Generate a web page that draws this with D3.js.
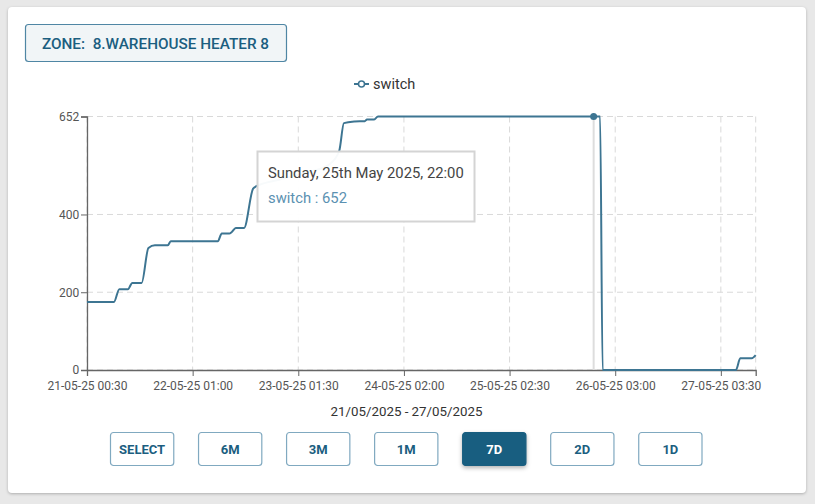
<!DOCTYPE html>
<html><head><meta charset="utf-8">
<script src="https://cdn.jsdelivr.net/npm/d3@7"></script>
<style>
html,body{margin:0;padding:0;background:#e8e8e8;font-family:Roboto,"Noto Sans",sans-serif;}
#card{position:absolute;left:8px;top:7px;width:798px;height:486px;background:#fff;border-radius:4px;box-shadow:0 1px 3px rgba(0,0,0,0.25);}
svg{position:absolute;left:0;top:0;}
</style></head>
<body>
<div id="card"></div>
<svg id="chart" width="815" height="504"></svg>
<script>
const zoneTitle = "ZONE:  8.WAREHOUSE HEATER 8";
const seriesName = "switch";
const times = [
 "2025-05-21 00:30","2025-05-21 06:45","2025-05-21 08:00","2025-05-21 10:00","2025-05-21 11:00","2025-05-21 13:10",
 "2025-05-21 14:45","2025-05-21 16:15","2025-05-21 19:15","2025-05-21 19:55","2025-05-22 06:50","2025-05-22 07:45",
 "2025-05-22 09:30","2025-05-22 10:05","2025-05-22 11:00","2025-05-22 12:55","2025-05-22 15:00","2025-05-22 15:40",
 "2025-05-22 21:15","2025-05-23 04:10","2025-05-23 08:50","2025-05-23 11:00","2025-05-23 12:05","2025-05-23 14:35",
 "2025-05-23 16:55","2025-05-23 17:25","2025-05-23 19:00","2025-05-23 20:00","2025-05-25 22:00","2025-05-25 23:30",
 "2025-05-26 00:05","2025-05-27 07:00","2025-05-27 08:00","2025-05-27 10:40","2025-05-27 11:35"];
const values = [175,175,208,208,224,224,314,321,321,331,331,351,351,355,365,365,466,472,490,510,530,564,635,639,640,644,644,652,652,652,0,0,30,30,38];
const yTicks = [0,200,400,652];
const xTickLabels = ["21-05-25 00:30","22-05-25 01:00","23-05-25 01:30","24-05-25 02:00","25-05-25 02:30","26-05-25 03:00","27-05-25 03:30"];
const rangeButtons = ["SELECT","6M","3M","1M","7D","2D","1D"];
const activeButton = "7D";
const axisTitle = "21/05/2025 - 27/05/2025";
const tooltipTitle = "Sunday, 25th May 2025, 22:00";
const tooltipTime = "2025-05-25 22:00";

const parse = d3.timeParse("%Y-%m-%d %H:%M");
const tickParse = d3.timeParse("%d-%m-%y %H:%M");
const data = times.map((t,i)=>({t:parse(t), v:values[i]}));
const svg = d3.select("#chart");
const lineColor = "#3d7592";
const dark = "#1b5e80";

// zone button
const zb = svg.append("g");
zb.append("rect").attr("x",25.5).attr("y",24.5).attr("width",261).attr("height",37).attr("rx",3)
  .attr("fill","#f1f5f7").attr("stroke","#4f86a4").attr("stroke-width",1.2);
zb.append("text").attr("x",155.5).attr("y",48.5).attr("text-anchor","middle").attr("fill",dark)
  .attr("font-size",15.3).attr("font-weight",500).attr("xml:space","preserve").style("white-space","pre").text(zoneTitle);

// legend
const lg = svg.append("g");
lg.append("line").attr("x1",354).attr("x2",369).attr("y1",84).attr("y2",84).attr("stroke",lineColor).attr("stroke-width",2);
lg.append("circle").attr("cx",361.5).attr("cy",84).attr("r",3).attr("fill","#fff").attr("stroke",lineColor).attr("stroke-width",1.5);
lg.append("text").attr("x",373).attr("y",89).attr("font-size",14.5).attr("fill","#333").text(seriesName);

const x0 = 87, x1 = 755.7, yB = 370, yT = 116.5;
const x = d3.scaleTime().domain([data[0].t, data[data.length-1].t]).range([x0,x1]);
const y = d3.scaleLinear().domain([0,652]).range([yB,yT]);

// grid
const grid = svg.append("g").attr("stroke","#d9d9d9").attr("stroke-dasharray","6,4").attr("stroke-width",1);
const xTickDates = xTickLabels.map(s=>tickParse(s));
xTickDates.concat([x.domain()[1]]).forEach(d=>{
  grid.append("line").attr("x1",x(d)).attr("x2",x(d)).attr("y1",yT).attr("y2",yB);
});
yTicks.forEach(v=>{
  grid.append("line").attr("x1",x0).attr("x2",x1).attr("y1",y(v)).attr("y2",y(v));
});

// axes
const xAxis = svg.append("g").attr("transform",`translate(0,${yB})`)
  .call(d3.axisBottom(x).tickValues(xTickDates).tickFormat(d3.timeFormat("%d-%m-%y %H:%M")).tickSizeOuter(0).tickSize(6));
const yAxis = svg.append("g").attr("transform",`translate(${x0},0)`)
  .call(d3.axisLeft(y).tickValues(yTicks).tickSizeOuter(0).tickSize(6));
[xAxis,yAxis].forEach(a=>{
  a.select(".domain").attr("stroke","#666").attr("stroke-width",1.3);
  a.selectAll(".tick line").attr("stroke","#666");
  a.selectAll(".tick text").attr("fill","#555").attr("font-size",12).attr("font-family","Roboto,sans-serif");
});
xAxis.selectAll(".tick text").attr("dy","0.9em");
yAxis.selectAll(".tick text").attr("dx","0.1em");

svg.append("text").attr("x",406.5).attr("y",416).attr("text-anchor","middle").attr("font-size",13.3)
  .attr("fill","#333").text(axisTitle);

// crosshair
const tt = parse(tooltipTime);
const ttv = data.find(d=>+d.t===+tt).v;
svg.append("line").attr("x1",x(tt)).attr("x2",x(tt)).attr("y1",y(ttv)).attr("y2",yB)
  .attr("stroke","#ddd").attr("stroke-width",2);

// line
svg.append("path").datum(data).attr("fill","none").attr("stroke",lineColor).attr("stroke-width",2)
  .attr("stroke-linejoin","round")
  .attr("d", d3.line().x(d=>x(d.t)).y(d=>y(d.v)).curve(d3.curveMonotoneX));

svg.append("circle").attr("cx",x(tt)).attr("cy",y(ttv)).attr("r",3.5).attr("fill",lineColor);

// tooltip
const tg = svg.append("g");
tg.append("rect").attr("x",257.5).attr("y",151.5).attr("width",217).attr("height",70)
  .attr("fill","rgba(255,255,255,0.96)").attr("stroke","#d4d4d4").attr("stroke-width",2);
tg.append("text").attr("x",268).attr("y",178).attr("font-size",14.8).attr("fill","#444").text(tooltipTitle);
tg.append("text").attr("x",268).attr("y",203).attr("font-size",14.8).attr("fill","#5b91b1").text(`${seriesName} : ${ttv}`);

// buttons
const bx = d3.scaleBand().domain(rangeButtons).range([110,702.5]).paddingInner(0.27).paddingOuter(0);
const bg = svg.append("g").selectAll("g").data(rangeButtons).join("g")
  .attr("transform",d=>`translate(${bx(d)},432)`);
bg.append("rect").attr("x",0.5).attr("y",0.5).attr("width",bx.bandwidth()-1).attr("height",33).attr("rx",3)
  .attr("fill",d=>d===activeButton?"#185e80":"#fff")
  .attr("stroke",d=>d===activeButton?"#185e80":"#80a9c0").attr("stroke-width",1.2)
  .style("filter",d=>d===activeButton?"drop-shadow(0 2px 2px rgba(0,0,0,0.3))":null);
bg.append("text").attr("x",bx.bandwidth()/2).attr("y",22).attr("text-anchor","middle")
  .attr("font-size",13).attr("font-weight",700).attr("fill",d=>d===activeButton?"#fff":dark).text(d=>d);
</script>
</body></html>
